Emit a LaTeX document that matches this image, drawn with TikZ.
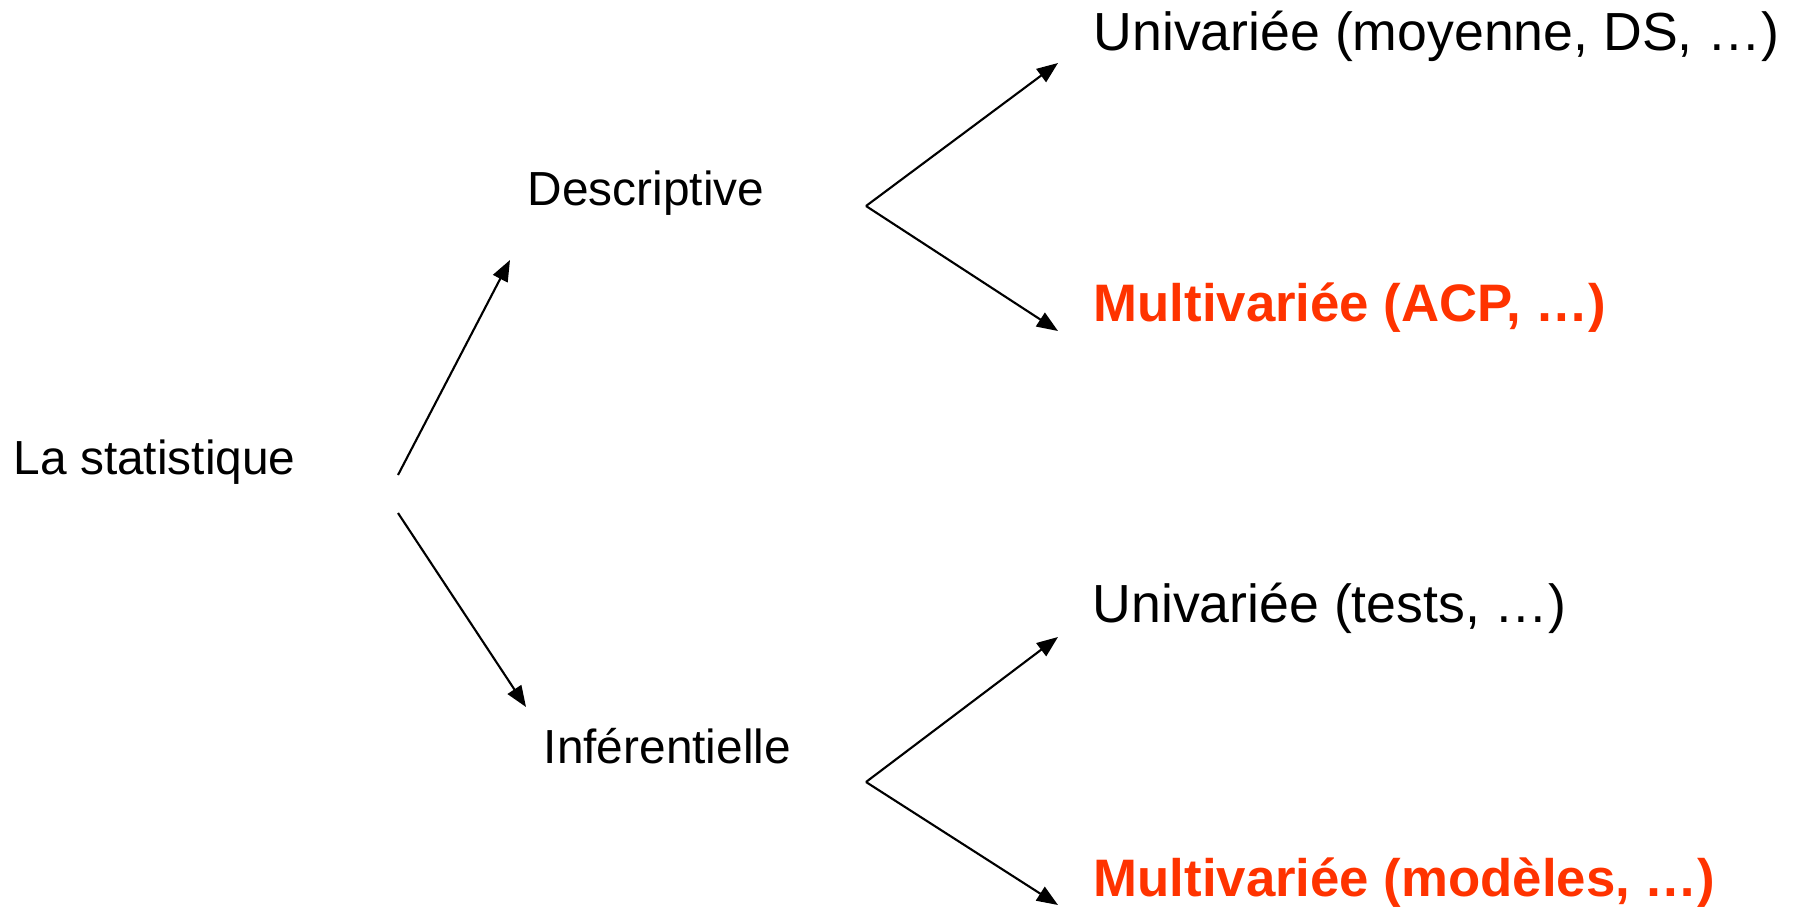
\documentclass[tikz,border=0pt]{standalone}
\usepackage{fontspec}
\setmainfont{Liberation Sans}
\usetikzlibrary{arrows.meta}
\definecolor{hotred}{RGB}{255,51,0}

\begin{document}
\begin{tikzpicture}[x=0.01cm,y=-0.01cm,
  txt/.style={anchor=base west,inner sep=0pt,font=\fontsize{13.6}{16}\selectfont},
  leaf/.style={anchor=base west,inner sep=0pt,font=\fontsize{15.25}{18}\selectfont},
  redleaf/.style={leaf,text=hotred,font=\fontsize{15}{18}\selectfont\bfseries},
  arr/.style={-{Triangle[length=6pt,width=4.6pt]},line width=0.6pt}]
\useasboundingbox (0,0) rectangle (1794,906);
\node[txt] (stat) at (13,474) {La statistique};
\node[txt] (desc) at (527,205) {Descriptive};
\node[txt] (inf) at (543,763) {Inférentielle};
\node[leaf] (uni1) at (1093,50) {Univariée (moyenne, DS, …)};
\node[redleaf] (multi1) at (1093,321) {Multivariée (ACP, …)};
\node[leaf] (uni2) at (1092,622) {Univariée (tests, …)};
\node[redleaf] (multi2) at (1093,896) {Multivariée (modèles, …)};
% arrow ends
\coordinate (stat-up) at (398,475);
\coordinate (stat-dn) at (398,513);
\coordinate (desc-in) at (510,260);
\coordinate (inf-in) at (526,707);
\coordinate (desc-fork) at (866,206);
\coordinate (inf-fork) at (866,782);
\coordinate (uni1-in) at (1058,63);
\coordinate (multi1-in) at (1058,331);
\coordinate (uni2-in) at (1058,637);
\coordinate (multi2-in) at (1058,905);
\draw[arr] (stat-up) -- (desc-in);
\draw[arr] (stat-dn) -- (inf-in);
\draw[arr] (desc-fork) -- (uni1-in);
\draw[arr] (desc-fork) -- (multi1-in);
\draw[arr] (inf-fork) -- (uni2-in);
\draw[arr] (inf-fork) -- (multi2-in);
\end{tikzpicture}
\end{document}
